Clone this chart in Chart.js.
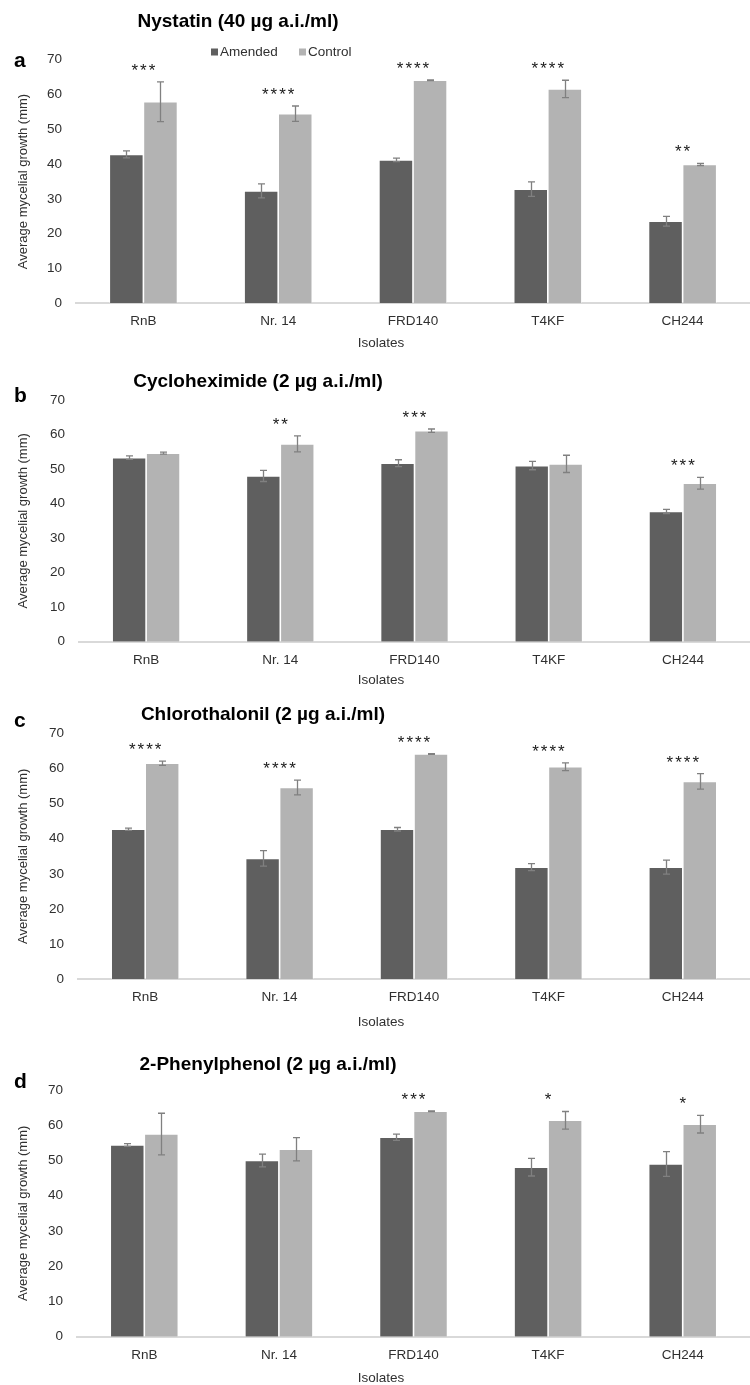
<!DOCTYPE html>
<html>
<head>
<meta charset="utf-8">
<script src="https://cdn.jsdelivr.net/npm/chart.js@4.4.1/dist/chart.umd.min.js"></script>
<style>
  html, body { margin: 0; padding: 0; background: #fff; }
  #wrap { position: relative; width: 750px; height: 1385px; }
  canvas { position: absolute; left: 0; }
</style>
</head>
<body>
<div id="wrap">
  <canvas id="ca" width="750" height="360" style="top:0px"></canvas>
  <canvas id="cb" width="750" height="335" style="top:360px"></canvas>
  <canvas id="cc" width="750" height="345" style="top:695px"></canvas>
  <canvas id="cd" width="750" height="345" style="top:1040px"></canvas>
</div>
<script>
const isolates = ["RnB", "Nr. 14", "FRD140", "T4KF", "CH244"];
const seriesNames = ["Amended", "Control"];

// a - Nystatin
const nystatinAmended = [42.8, 32.3, 41.2, 32.8, 23.6];
const nystatinAmendedErr = [1.0, 2.0, 0.5, 2.1, 1.4];
const nystatinControl = [57.9, 54.5, 64.1, 61.6, 39.9];
const nystatinControlErr = [5.7, 2.2, 0.1, 2.5, 0.3];
const nystatinStars = ["***", "****", "****", "****", "**"];

// b - Cycloheximide
const cycloAmended = [53.3, 48.0, 51.7, 51.0, 37.7];
const cycloAmendedErr = [0.5, 1.6, 1.0, 1.2, 0.6];
const cycloControl = [54.6, 57.3, 61.1, 51.5, 45.9];
const cycloControlErr = [0.3, 2.3, 0.5, 2.5, 1.7];
const cycloStars = ["", "**", "***", "", "***"];

// c - Chlorothalonil
const chloroAmended = [42.7, 34.4, 42.7, 31.9, 31.9];
const chloroAmendedErr = [0.3, 2.2, 0.5, 1.0, 2.0];
const chloroControl = [61.5, 54.6, 64.1, 60.5, 56.3];
const chloroControlErr = [0.6, 2.1, 0.1, 1.1, 2.2];
const chloroStars = ["****", "****", "****", "****", "****"];

// d - 2-Phenylphenol
const phenylAmended = [54.4, 50.0, 56.6, 48.1, 49.0];
const phenylAmendedErr = [0.4, 1.8, 0.9, 2.5, 3.5];
const phenylControl = [57.5, 53.2, 64.0, 61.4, 60.3];
const phenylControlErr = [5.9, 3.3, 0.1, 2.5, 2.5];
const phenylStars = ["", "", "***", "*", "*"];

const yMax = 70;
const yStep = 10;

const FONT = "'Liberation Sans', Arial, sans-serif";
const DARK = "#5f5f5f";
const LIGHT = "#b3b3b3";
const TEXT = "#303030";

const panels = [
  { id: "ca", letter: "a", title: "Nystatin (40 µg a.i./ml)",
    amended: nystatinAmended, amendedErr: nystatinAmendedErr,
    control: nystatinControl, controlErr: nystatinControlErr, stars: nystatinStars,
    height: 360, areaTop: 59.7, areaBottom: 303.3, left: 76,
    titleX: 238, titleY: 26.5, letterY: 67, isoY: 343, legend: true },
  { id: "cb", letter: "b", title: "Cycloheximide (2 µg a.i./ml)",
    amended: cycloAmended, amendedErr: cycloAmendedErr,
    control: cycloControl, controlErr: cycloControlErr, stars: cycloStars,
    height: 335, areaTop: 40, areaBottom: 281.7, left: 79,
    titleX: 258, titleY: 27, letterY: 42, isoY: 320, legend: false },
  { id: "cc", letter: "c", title: "Chlorothalonil (2 µg a.i./ml)",
    amended: chloroAmended, amendedErr: chloroAmendedErr,
    control: chloroControl, controlErr: chloroControlErr, stars: chloroStars,
    height: 345, areaTop: 38.3, areaBottom: 284.3, left: 78,
    titleX: 263, titleY: 25, letterY: 32, isoY: 327, legend: false },
  { id: "cd", letter: "d", title: "2-Phenylphenol (2 µg a.i./ml)",
    amended: phenylAmended, amendedErr: phenylAmendedErr,
    control: phenylControl, controlErr: phenylControlErr, stars: phenylStars,
    height: 345, areaTop: 50, areaBottom: 296.7, left: 77,
    titleX: 268, titleY: 30, letterY: 48, isoY: 338, legend: false }
];

// error bars, significance stars, panel title / letter / legend / x title
const panelDeco = {
  id: "panelDeco",
  afterDatasetsDraw(chart, args, o) {
    const ctx = chart.ctx;
    const ys = chart.scales.y, xs = chart.scales.x;
    ctx.save();
    ctx.strokeStyle = "#808080";
    ctx.lineWidth = 1.3;
    const tops = [];
    chart.data.datasets.forEach((ds, i) => {
      chart.getDatasetMeta(i).data.forEach((bar, j) => {
        const v = ds.data[j], e = ds.errors[j];
        const y1 = ys.getPixelForValue(v + e);
        const y2 = ys.getPixelForValue(v - e);
        const x = Math.round(bar.x) + 0.5;
        ctx.beginPath();
        ctx.moveTo(x, y1); ctx.lineTo(x, y2);
        ctx.moveTo(x - 3.5, y1); ctx.lineTo(x + 3.5, y1);
        ctx.moveTo(x - 3.5, y2); ctx.lineTo(x + 3.5, y2);
        ctx.stroke();
        tops[j] = Math.min(tops[j] === undefined ? Infinity : tops[j], y1);
      });
    });
    ctx.fillStyle = "#1a1a1a";
    ctx.font = "17px " + FONT;
    ctx.letterSpacing = "2px";
    ctx.textAlign = "center";
    ctx.textBaseline = "alphabetic";
    o.stars.forEach((s, j) => {
      if (!s) return;
      ctx.fillText(s, xs.getPixelForValue(j) + 1, tops[j] - 6);
    });
    ctx.restore();
  },
  afterDraw(chart, args, o) {
    const ctx = chart.ctx;
    ctx.save();
    ctx.fillStyle = "#000";
    ctx.textBaseline = "alphabetic";
    ctx.textAlign = "center";
    ctx.font = "bold 19px " + FONT;
    ctx.fillText(o.title, o.titleX, o.titleY);
    ctx.textAlign = "left";
    ctx.font = "bold 21px " + FONT;
    ctx.fillText(o.letter, 14, o.letterY);
    ctx.fillStyle = TEXT;
    ctx.font = "13.5px " + FONT;
    ctx.textAlign = "center";
    ctx.textBaseline = "middle";
    ctx.fillText("Isolates", 381, o.isoY);
    if (o.legend) {
      ctx.textAlign = "left";
      const names = chart.data.datasets.map(d => d.label);
      const cols = chart.data.datasets.map(d => d.backgroundColor);
      const xs = [211, 299];
      names.forEach((n, i) => {
        ctx.fillStyle = cols[i];
        ctx.fillRect(xs[i], 48.5, 7, 7);
        ctx.fillStyle = TEXT;
        ctx.fillText(n, xs[i] + 9, 52.5);
      });
    }
    ctx.restore();
  }
};

panels.forEach(p => {
  new Chart(document.getElementById(p.id), {
    type: "bar",
    data: {
      labels: isolates,
      datasets: [
        { label: seriesNames[0], data: p.amended, errors: p.amendedErr,
          backgroundColor: DARK, borderColor: "rgba(255,255,255,0.6)", borderWidth: 0.8 },
        { label: seriesNames[1], data: p.control, errors: p.controlErr,
          backgroundColor: LIGHT, borderColor: "rgba(255,255,255,0.6)", borderWidth: 0.8 }
      ]
    },
    options: {
      responsive: false,
      animation: false,
      devicePixelRatio: 1,
      layout: { padding: { top: p.areaTop, bottom: p.height - p.areaBottom - 30, left: 0, right: 0 } },
      datasets: { bar: { categoryPercentage: 0.506, barPercentage: 1.0 } },
      plugins: {
        legend: { display: false },
        tooltip: { enabled: false },
        panelDeco: { title: p.title, titleX: p.titleX, titleY: p.titleY,
                     letter: p.letter, letterY: p.letterY, isoY: p.isoY,
                     legend: p.legend, stars: p.stars }
      },
      scales: {
        x: {
          grid: { display: false, drawTicks: false },
          border: { display: true, color: "#d9d9d9", width: 2 },
          ticks: { color: TEXT, font: { family: FONT, size: 13.5 }, padding: 10 },
          afterFit: s => { s.height = 30; }
        },
        y: {
          min: 0, max: yMax,
          grid: { display: false, drawTicks: false },
          border: { display: false },
          ticks: { stepSize: yStep, color: TEXT, font: { family: FONT, size: 13.5 }, padding: 14 },
          title: { display: true, text: "Average mycelial growth (mm)", color: TEXT,
                   font: { family: FONT, size: 13 }, padding: { top: 16, bottom: 0 } },
          afterFit: s => { s.width = p.left; }
        }
      }
    },
    plugins: [panelDeco]
  });
});
</script>
</body>
</html>
